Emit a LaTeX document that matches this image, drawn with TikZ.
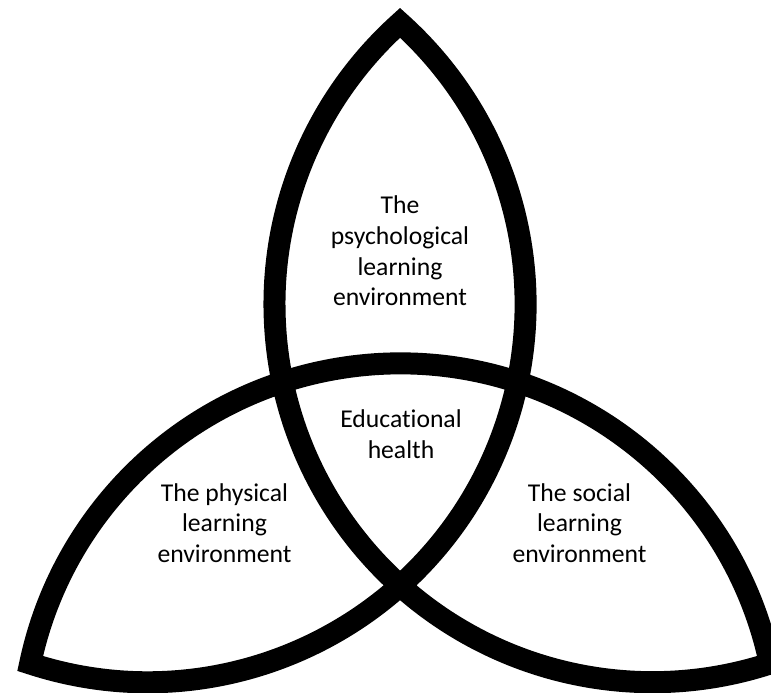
\documentclass[tikz,border=0pt]{standalone}
\usepackage{fontspec}
\setmainfont{Carlito}[Ligatures=NoCommon]
\usepackage{tikz}
\usetikzlibrary{positioning}

\tikzset{
    knot/.style={line width=0.44cm, line join=miter, black},
    region/.style={align=center, font=\fontsize{14.6}{17.5}\selectfont}
}

\begin{document}
\begin{tikzpicture}[x=0.02cm, y=0.02cm]
    % Frame
    \clip (-400,-243) rectangle (371,450);

    % Three interlaced arcs, tip to tip (start mid-arc so the tips are mitred)
    \draw[knot] (-125.5,145.8)
        arc[start angle=180, end angle=288.1, radius=378]
        arc[start angle=11.9, end angle=168.1, radius=378]
        arc[start angle=251.9, end angle=408.1, radius=378]
        arc[start angle=131.9, end angle=182, radius=378];

    % Regions
    \node[region] (psych) at (0,199) {The\\psychological\\learning\\environment};
    \node[region] (health) at (1,16) {Educational\\health};
    \node[region] (physical) at (-175.5,-73) {The physical\\learning\\environment};
    \node[region] (social) at (179.5,-73) {The social\\learning\\environment};
\end{tikzpicture}
\end{document}
